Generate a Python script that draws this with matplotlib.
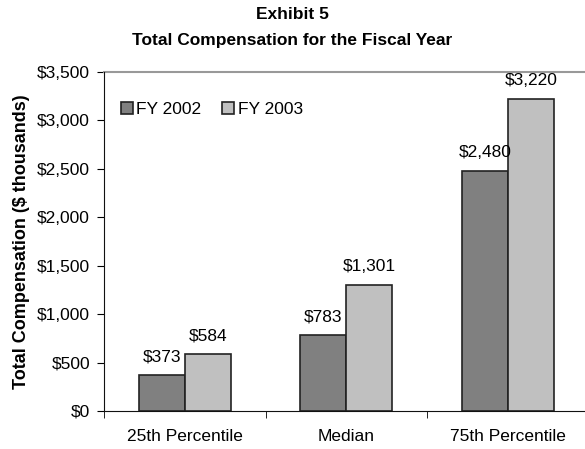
import numpy as np
import matplotlib.pyplot as plt

plt.rcParams['font.family'] = ['Liberation Sans', 'DejaVu Sans']

categories = ['25th Percentile', 'Median', '75th Percentile']
fy2002 = [373, 783, 2480]
fy2003 = [584, 1301, 3220]
yticks = [0, 500, 1000, 1500, 2000, 2500, 3000, 3500]

fig = plt.figure(figsize=(5.85, 4.49), dpi=100)
ax = fig.add_axes([104 / 585, 1 - 411 / 449, 484.5 / 585, 339 / 449])

x = np.arange(len(categories))
w = 0.285
b1 = ax.bar(x - w / 2, fy2002, w, color='#808080', edgecolor='#222222', linewidth=1.2, label='FY 2002')
b2 = ax.bar(x + w / 2, fy2003, w, color='#c0c0c0', edgecolor='#222222', linewidth=1.2, label='FY 2003')

for bars, vals in ((b1, fy2002), (b2, fy2003)):
    for r, v in zip(bars, vals):
        ax.text(r.get_x() + r.get_width() / 2, v + 110, '${:,}'.format(v),
                ha='center', va='bottom', fontsize=12.5)

ax.set_xlim(-0.5, 2.5)
ax.set_ylim(0, 3500)
ax.axhline(3500, color='#999999', linewidth=1.5, clip_on=False)
ax.set_yticks(yticks)
ax.set_yticklabels(['${:,}'.format(t) for t in yticks], fontsize=12.5)
ax.set_xticks(x)
ax.set_xticklabels(categories, fontsize=12.5)
ax.set_xticks([-0.5, 0.5, 1.5, 2.5], minor=True)
ax.tick_params(axis='x', which='major', length=0, pad=13)
ax.tick_params(axis='x', which='minor', length=5, direction='out')
ax.tick_params(axis='y', length=5, direction='out', pad=5)
for s in ('top', 'right'):
    ax.spines[s].set_visible(False)
ax.spines['left'].set_color('#111111')
ax.spines['bottom'].set_color('#111111')

ax.set_ylabel('Total Compensation ($ thousands)', fontsize=13, fontweight='bold', labelpad=5)
fig.text(0.5, 1 - 19 / 449, 'Exhibit 5', ha='center', va='baseline',
         fontsize=12.5, fontweight='bold')
fig.text(0.5, 1 - 45 / 449, 'Total Compensation for the Fiscal Year', ha='center',
         va='baseline', fontsize=12.5, fontweight='bold')

ax.legend(loc='upper left', bbox_to_anchor=(0.02, 0.932), ncol=2, frameon=False,
          fontsize=12.5, handlelength=0.7, handleheight=0.7, handletextpad=0.2,
          columnspacing=1.2, borderaxespad=0)

fig.savefig('out.png', dpi=100)
